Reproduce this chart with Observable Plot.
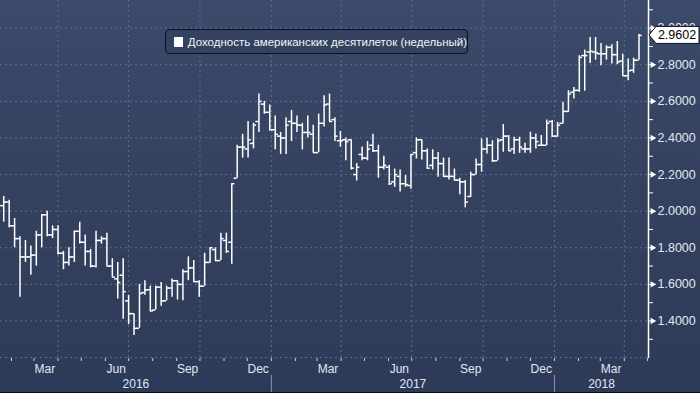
<!DOCTYPE html>
<html><head><meta charset="utf-8">
<script src="https://cdn.jsdelivr.net/npm/d3@7"></script>
<script src="https://cdn.jsdelivr.net/npm/@observablehq/plot@0.6"></script>
<style>
html,body{margin:0;padding:0;background:#2c3958;}
#wrap{position:relative;width:700px;height:393px;overflow:hidden;}
#wrap svg{display:block;}
#legend{position:absolute;z-index:2;left:165px;top:29px;width:303px;height:25px;box-sizing:border-box;border:1px solid #0b1222;border-radius:4px;background:#34425f;color:#f2f4f8;font:11.5px "Liberation Sans",Arial,sans-serif;display:flex;align-items:center;padding-left:8px;white-space:nowrap;}
#legend .sw{display:inline-block;width:10px;height:10px;background:#fff;margin-right:5px;}
#bottomline{position:absolute;left:0;top:392px;width:700px;height:1px;background:#05080f;z-index:2;}
</style></head>
<body><div id="wrap"><div id="legend"><span class="sw"></span>Доходность американских десятилеток (недельный)</div><div id="bottomline"></div></div>
<script>
// Weekly bars, week ending Friday
const firstWeek = "2016-01-22";
const opens = [2.03,2.05,1.92,1.85,1.75,1.75,1.76,1.87,1.98,1.87,
 1.90,1.77,1.72,1.75,1.89,1.83,1.78,1.70,1.84,1.85,
 1.70,1.63,1.65,1.51,1.44,1.36,1.555,1.57,1.46,1.585,
 1.51,1.58,1.62,1.60,1.67,1.69,1.615,1.59,1.72,1.79,
 1.73,1.84,1.83,2.18,2.35,2.34,2.37,2.49,2.585,2.54,
 2.445,2.41,2.40,2.49,2.48,2.47,2.43,2.42,2.32,2.48,
 2.585,2.50,2.385,2.39,2.39,2.20,2.31,2.29,2.36,2.33,
 2.24,2.24,2.16,2.19,2.15,2.14,2.32,2.39,2.33,2.25,
 2.29,2.26,2.19,2.19,2.17,2.16,2.08,2.20,2.255,2.34,
 2.36,2.276,2.39,2.41,2.34,2.39,2.34,2.34,2.40,2.36,
 2.36,2.49,2.41,2.48,2.545,2.65,2.66,2.85,2.87,2.87,
 2.86,2.86,2.895,2.855,2.82,2.74,2.77,2.825];
const highs = [2.08,2.06,1.96,1.86,1.84,1.81,1.89,1.98,2.00,1.92,
 1.92,1.78,1.80,1.89,1.94,1.87,1.79,1.89,1.86,1.88,
 1.74,1.72,1.74,1.54,1.44,1.60,1.62,1.59,1.59,1.61,
 1.59,1.63,1.62,1.68,1.75,1.73,1.62,1.77,1.80,1.80,
 1.88,1.88,2.15,2.36,2.42,2.49,2.48,2.64,2.60,2.58,
 2.52,2.43,2.51,2.55,2.52,2.48,2.52,2.47,2.53,2.63,
 2.64,2.51,2.435,2.40,2.39,2.26,2.35,2.38,2.42,2.36,
 2.30,2.25,2.23,2.225,2.195,2.31,2.40,2.39,2.34,2.335,
 2.32,2.29,2.29,2.23,2.18,2.167,2.213,2.285,2.395,2.40,
 2.385,2.395,2.473,2.413,2.404,2.404,2.371,2.431,2.422,2.413,
 2.498,2.495,2.485,2.595,2.658,2.676,2.849,2.88,2.949,2.949,
 2.916,2.904,2.909,2.927,2.858,2.831,2.836,2.965];
const lows = [1.94,1.91,1.80,1.53,1.72,1.65,1.70,1.80,1.86,1.85,
 1.76,1.68,1.70,1.72,1.82,1.70,1.69,1.69,1.82,1.70,
 1.64,1.52,1.41,1.38,1.32,1.36,1.54,1.45,1.46,1.48,
 1.51,1.53,1.515,1.51,1.62,1.61,1.53,1.59,1.715,1.725,
 1.73,1.77,1.71,2.18,2.29,2.29,2.34,2.43,2.53,2.44,
 2.335,2.31,2.31,2.38,2.43,2.335,2.40,2.32,2.32,2.46,
 2.49,2.38,2.35,2.275,2.225,2.165,2.275,2.275,2.32,2.18,
 2.225,2.14,2.13,2.105,2.13,2.12,2.285,2.28,2.23,2.225,
 2.185,2.185,2.17,2.167,2.09,2.018,2.075,2.20,2.213,2.313,
 2.267,2.276,2.322,2.327,2.309,2.316,2.316,2.316,2.34,2.353,
 2.358,2.404,2.404,2.476,2.54,2.613,2.649,2.655,2.807,2.825,
 2.795,2.825,2.804,2.80,2.74,2.713,2.753,2.825];
const closes = [2.05,1.92,1.85,1.75,1.75,1.76,1.87,1.98,1.87,1.90,
 1.77,1.72,1.75,1.89,1.83,1.78,1.70,1.84,1.85,1.70,
 1.64,1.61,1.56,1.44,1.36,1.55,1.57,1.455,1.585,1.51,
 1.58,1.62,1.60,1.67,1.69,1.615,1.59,1.72,1.80,1.73,
 1.85,1.78,2.15,2.35,2.35,2.39,2.47,2.60,2.54,2.445,
 2.42,2.40,2.47,2.48,2.47,2.43,2.43,2.32,2.48,2.58,
 2.49,2.41,2.385,2.38,2.235,2.24,2.29,2.34,2.33,2.24,
 2.25,2.15,2.20,2.15,2.145,2.31,2.39,2.33,2.235,2.29,
 2.26,2.19,2.19,2.17,2.16,2.05,2.20,2.255,2.34,2.36,
 2.275,2.385,2.41,2.33,2.39,2.35,2.34,2.40,2.38,2.36,
 2.48,2.41,2.47,2.545,2.64,2.66,2.84,2.85,2.873,2.865,
 2.86,2.895,2.855,2.815,2.74,2.767,2.825,2.9602];

const legendLabel = "Доходность американских десятилеток (недельный)";
const yMajorTicks = [1.4,1.6,1.8,2.0,2.2,2.4,2.6,2.8,3.0];
const yMinorTicks = [1.3,1.5,1.7,1.9,2.1,2.3,2.5,2.7,2.9,3.1];
const yGridValues = [1.2,1.4,1.6,1.8,2.0,2.2,2.4,2.6,2.8,3.0];
const quarterGrid = ["2016-04-01","2016-07-01","2016-10-01","2017-01-01","2017-04-01","2017-07-01","2017-10-01","2018-01-01","2018-04-01"].map(s=>new Date(s));
const monthLabelDates = ["2016-03-15","2016-06-15","2016-09-15","2016-12-15","2017-03-15","2017-06-15","2017-09-15","2017-12-15","2018-03-15"].map(s=>new Date(s));
const yearStarts = ["2017-01-01","2018-01-01"].map(s=>new Date(s));
const years = [2016,2017,2018];

const xDomain = [new Date("2016-01-17T20:00:00Z"), new Date("2018-05-02T05:00:00Z")];
const yDomain = [1.195, 3.151];

const weeks = opens.map((_, i) => d3.utcDay.offset(new Date(firstWeek), 7 * i));
const data = weeks.map((date, i) => ({date, open: opens[i], high: highs[i], low: lows[i], close: closes[i]}));
const monthStarts = d3.utcMonth.range(d3.utcMonth.ceil(xDomain[0]), xDomain[1]);
const yearLabelDates = years.map(y => {
  const a = Math.max(+xDomain[0], Date.UTC(y,0,1)), b = Math.min(+xDomain[1], Date.UTC(y+1,0,1));
  return new Date((a + b) / 2);
});
const tickDays = 4;
const shift = (d, days) => new Date(+d + days * 864e5);
const grid = "#56728f";
const textColor = "#e2e8f0";

const chart = Plot.plot({
  width: 700, height: 393,
  marginLeft: 0, marginRight: 52, marginTop: 0, marginBottom: 35,
  style: {
    background: "linear-gradient(to bottom, #3c4a6b 0px, #34425f 180px, #2e3c5a 358px, #2c3958 393px)",
    color: textColor, fontFamily: "'Liberation Sans', Arial, sans-serif", fontSize: "12px", overflow: "visible"
  },
  x: {type: "utc", domain: xDomain, axis: null},
  y: {domain: yDomain, axis: null},
  marks: [
    Plot.ruleY(yGridValues, {stroke: grid, strokeDasharray: "2,3", strokeWidth: 1}),
    Plot.ruleX(quarterGrid, {stroke: grid, strokeDasharray: "2,3", strokeWidth: 1}),
    Plot.ruleX(data, {x: "date", y1: "low", y2: "high", stroke: "white", strokeWidth: 1.5}),
    Plot.ruleY(data, {y: "open", x1: d => shift(d.date, -tickDays), x2: "date", stroke: "white", strokeWidth: 1.5}),
    Plot.ruleY(data, {y: "close", x1: "date", x2: d => shift(d.date, tickDays), stroke: "white", strokeWidth: 1.5}),
    Plot.axisX(monthStarts, {tickSize: 3, tickFormat: () => "", stroke: "#c5cdd9"}),
    Plot.axisX(monthLabelDates, {tickSize: 0, tickPadding: 6, tickFormat: d3.utcFormat("%b"), fill: textColor, fontSize: 12}),
    Plot.axisX(yearStarts, {tickSize: 17, dy: 17, tickFormat: () => "", stroke: "#8a95a6"}),
    Plot.axisX(yearLabelDates, {tickSize: 0, tickPadding: 21, tickFormat: d3.utcFormat("%Y"), fill: textColor, fontSize: 12}),
    Plot.ruleX([xDomain[1]], {stroke: "white", strokeWidth: 1.5}),
    Plot.axisY(yMinorTicks, {anchor: "right", tickSize: 4, tickFormat: () => "", stroke: "white"}),
    Plot.axisY(yMajorTicks, {anchor: "right", tickSize: 6, tickPadding: 3, tickFormat: d3.format(".4f"), stroke: "white", fill: textColor, fontSize: 12.5}),
    Plot.dot(yMajorTicks, {x: () => xDomain[1], y: d => d, symbol: "triangle", rotate: 90, r: 2.4, fill: "white", dx: 4})
  ]
});

document.getElementById("wrap").prepend(chart);

// last-price tag, positioned through Plot's scales
const ys = chart.scale("y"), xs = chart.scale("x");
const last = closes[closes.length - 1];
const yy = ys.apply(last);
const x0 = xs.range[1];
const g = d3.select(chart).append("g");
g.append("path")
  .attr("d", `M${x0 + 1},${yy} L${x0 + 8},${yy - 8.5} L${x0 + 51},${yy - 8.5} L${x0 + 51},${yy + 8.5} L${x0 + 8},${yy + 8.5} Z`)
  .attr("fill", "white").attr("stroke", "#0b0f18").attr("stroke-width", 1);
g.append("text")
  .attr("x", x0 + 29).attr("y", yy).attr("dy", "0.36em").attr("text-anchor", "middle")
  .attr("fill", "#000").attr("font-size", 12.5).attr("font-family", "'Liberation Sans', Arial, sans-serif")
  .text(d3.format(".4f")(last));
</script>
</body></html>
